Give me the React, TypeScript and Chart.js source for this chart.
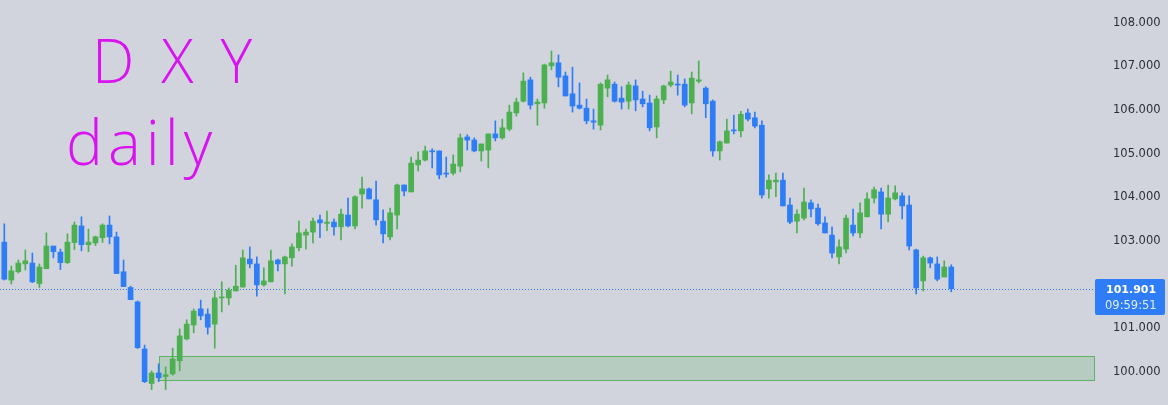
import React, { useEffect, useRef } from "react";
import { Chart, registerables } from "chart.js";

Chart.register(...registerables);

// ---- Data (DXY daily candles) ----
const opens = [
  102.97, 102.10, 102.29, 102.47, 102.49, 102.02, 102.36, 102.88, 102.74, 102.50,
  102.96, 103.34, 102.91, 102.95, 103.07, 103.36, 103.09, 102.29, 101.93, 101.60,
  100.52, 99.73, 99.97, 99.89, 99.95, 100.25, 100.75, 101.07, 101.44, 101.32,
  101.09, 101.69, 101.69, 101.85, 101.94, 102.58, 102.47, 101.99, 102.06, 102.56,
  102.47, 102.61, 102.84, 103.13, 103.20, 103.48, 103.40, 103.43, 103.32, 103.59,
  103.34, 104.07, 104.19, 103.94, 103.45, 103.09, 103.59, 104.28, 104.12, 104.74,
  104.85, 105.06, 105.06, 104.55, 104.55, 104.71, 105.38, 105.31, 105.06, 105.08,
  105.45, 105.36, 105.56, 105.93, 106.20, 106.69, 106.14, 106.16, 107.01, 107.08,
  106.78, 106.37, 106.11, 106.04, 105.75, 105.65, 106.50, 106.59, 106.27, 106.20,
  106.55, 106.25, 106.16, 105.61, 106.23, 106.57, 106.59, 106.59, 106.16, 106.66,
  106.50, 106.20, 105.06, 105.24, 105.54, 105.52, 105.93, 105.82, 105.65, 104.19,
  104.35, 104.39, 103.82, 103.45, 103.52, 103.87, 103.75, 103.41, 103.13, 102.63,
  102.81, 103.36, 103.18, 103.55, 103.98, 104.12, 103.61, 103.96, 104.03, 103.82,
  102.79, 102.08, 102.61, 102.47, 102.17, 102.40,
];
const highs = [
  103.39, 102.42, 102.56, 102.79, 102.72, 102.47, 103.18, 102.88, 102.81, 103.16,
  103.43, 103.55, 103.27, 103.11, 103.39, 103.57, 103.20, 102.56, 101.96, 101.62,
  100.61, 100.02, 100.18, 100.11, 100.54, 100.98, 101.19, 101.44, 101.64, 101.44,
  101.85, 102.06, 101.92, 102.44, 102.79, 102.86, 102.63, 102.38, 102.79, 102.58,
  102.65, 102.93, 103.45, 103.27, 103.52, 103.59, 103.68, 103.50, 103.73, 103.98,
  104.03, 104.46, 104.21, 104.37, 103.71, 103.75, 104.30, 104.28, 104.92, 105.04,
  105.17, 105.11, 105.06, 104.92, 104.97, 105.45, 105.43, 105.36, 105.22, 105.45,
  105.75, 105.79, 106.11, 106.27, 106.85, 106.75, 106.25, 107.05, 107.35, 107.26,
  106.87, 106.98, 106.62, 106.25, 106.02, 106.62, 106.80, 106.64, 106.53, 106.64,
  106.69, 106.43, 106.34, 106.32, 106.57, 106.89, 106.80, 106.71, 106.87, 107.12,
  106.53, 106.23, 105.29, 105.79, 105.88, 105.97, 106.02, 105.95, 105.75, 104.51,
  104.55, 104.55, 103.98, 103.71, 104.21, 103.94, 103.84, 103.55, 103.32, 103.02,
  103.59, 103.73, 103.87, 104.10, 104.23, 104.21, 104.28, 104.26, 104.10, 104.03,
  102.81, 102.65, 102.63, 102.63, 102.54, 102.45,
];
const lows = [
  102.10, 102.01, 102.26, 102.33, 102.04, 101.93, 102.36, 102.61, 102.34, 102.48,
  102.80, 102.77, 102.75, 102.89, 102.96, 102.93, 102.25, 101.95, 101.65, 100.53,
  99.75, 99.59, 99.77, 99.59, 99.92, 100.02, 100.73, 100.89, 101.19, 100.86,
  100.54, 101.37, 101.53, 101.85, 101.94, 102.38, 101.73, 101.96, 102.06, 102.31,
  101.78, 102.42, 102.77, 102.81, 102.95, 103.07, 103.23, 103.13, 103.02, 103.32,
  103.27, 103.75, 103.96, 103.36, 102.95, 103.02, 103.27, 104.03, 104.12, 104.60,
  104.83, 104.67, 104.42, 104.46, 104.51, 104.58, 105.08, 105.04, 104.83, 104.67,
  105.29, 105.33, 105.52, 105.86, 106.18, 106.02, 105.65, 106.04, 106.92, 106.53,
  106.32, 105.95, 106.02, 105.68, 105.56, 105.54, 106.30, 106.18, 106.02, 106.02,
  105.98, 106.07, 105.52, 105.36, 106.14, 106.53, 106.34, 106.07, 105.91, 106.62,
  105.82, 104.94, 104.85, 105.24, 105.45, 105.38, 105.75, 105.59, 103.98, 103.98,
  104.01, 103.80, 103.39, 103.18, 103.48, 103.55, 103.36, 103.18, 102.61, 102.47,
  102.72, 103.11, 103.07, 103.55, 103.87, 103.27, 103.43, 103.94, 103.50, 102.79,
  101.78, 101.85, 102.38, 102.08, 102.17, 101.83,
];
const closes = [
  102.12, 102.31, 102.49, 102.54, 102.06, 102.40, 102.88, 102.75, 102.50, 102.97,
  103.36, 102.91, 102.97, 103.09, 103.36, 103.09, 102.25, 101.95, 101.65, 100.55,
  99.77, 99.97, 99.86, 99.93, 100.29, 100.82, 101.09, 101.39, 101.28, 101.02,
  101.69, 101.71, 101.87, 101.96, 102.61, 102.47, 101.99, 102.08, 102.54, 102.47,
  102.63, 102.86, 103.18, 103.20, 103.45, 103.41, 103.43, 103.32, 103.61, 103.34,
  104.01, 104.19, 103.96, 103.48, 103.16, 103.64, 104.28, 104.14, 104.78, 104.85,
  105.06, 105.04, 104.51, 104.53, 104.76, 105.36, 105.31, 105.06, 105.22, 105.45,
  105.36, 105.59, 105.95, 106.18, 106.66, 106.11, 106.18, 107.03, 107.08, 106.75,
  106.32, 106.09, 106.04, 105.75, 105.72, 106.59, 106.69, 106.20, 106.18, 106.57,
  106.23, 106.14, 105.59, 106.25, 106.55, 106.64, 106.57, 106.11, 106.73, 106.69,
  106.14, 105.06, 105.27, 105.52, 105.52, 105.90, 105.79, 105.63, 104.05, 104.39,
  104.39, 103.80, 103.43, 103.61, 103.89, 103.73, 103.39, 103.18, 102.72, 102.86,
  103.52, 103.18, 103.64, 103.96, 104.17, 103.61, 103.98, 104.10, 103.80, 102.88,
  101.92, 102.61, 102.49, 102.12, 102.40, 101.901,
];
const yTickValues = [100, 101, 103, 104, 105, 106, 107, 108];
const lastTime = "09:59:51";
const zoneLow = 99.8;
const zoneHigh = 100.36;
const zoneStartIndex = 22;
const noteLine1 = "DXY";
const noteLine2 = "daily";

const UP = "#4caf50";
const DOWN = "#2e7cf6";
const BG = "#d1d4dc";
const MAGENTA = "#d912f0";

export default function App() {
  const ref = useRef<HTMLCanvasElement>(null);

  useEffect(() => {
    document.body.style.margin = "0";
    const canvas = ref.current;
    if (!canvas) return;
    const idx = closes.map((_, i) => i);
    const colors = closes.map((c, i) => (c >= opens[i] ? UP : DOWN));
    const last = closes[closes.length - 1];

    const overlay = {
      id: "overlay",
      beforeDraw(chart: any) {
        const ctx = chart.ctx;
        ctx.save();
        ctx.fillStyle = BG;
        ctx.fillRect(0, 0, chart.width, chart.height);
        ctx.restore();
      },
      beforeDatasetsDraw(chart: any) {
        const { ctx, chartArea, scales } = chart;
        const xs = scales.x;
        const ys = scales.y;
        ctx.save();
        // demand zone
        const zx = Math.round(xs.getPixelForValue(zoneStartIndex)) + 0.5;
        const zt = Math.round(ys.getPixelForValue(zoneHigh)) + 0.5;
        const zb = Math.round(ys.getPixelForValue(zoneLow)) + 0.5;
        const zr = chartArea.right - 0.5;
        ctx.fillStyle = "rgba(76,175,80,0.2)";
        ctx.fillRect(zx, zt, zr - zx, zb - zt);
        ctx.strokeStyle = "rgba(76,175,80,0.85)";
        ctx.lineWidth = 1;
        ctx.strokeRect(zx, zt, zr - zx, zb - zt);
        // handwritten note
        ctx.fillStyle = MAGENTA;
        ctx.textBaseline = "alphabetic";
        ctx.textAlign = "left";
        ctx.font = '300 60px "Open Sans", "DejaVu Sans", sans-serif';
        (ctx as any).letterSpacing = "27px";
        ctx.fillText(noteLine1, 92, 83);
        ctx.font = '300 62px "Open Sans", "DejaVu Sans", sans-serif';
        (ctx as any).letterSpacing = "5px";
        ctx.fillText(noteLine2, 66, 165);
        (ctx as any).letterSpacing = "0px";
        // last price dotted line
        const py = Math.round(ys.getPixelForValue(last)) + 0.5;
        ctx.strokeStyle = DOWN;
        ctx.setLineDash([1, 2]);
        ctx.beginPath();
        ctx.moveTo(chartArea.left, py);
        ctx.lineTo(chartArea.right, py);
        ctx.stroke();
        ctx.restore();
      },
      afterDraw(chart: any) {
        const { ctx, chartArea, scales } = chart;
        const py = Math.round(scales.y.getPixelForValue(last));
        const x0 = chartArea.right;
        const top = py - 10;
        ctx.save();
        ctx.fillStyle = DOWN;
        ctx.beginPath();
        (ctx as any).roundRect(x0, top, 70, 36, 2);
        ctx.fill();
        ctx.textAlign = "left";
        ctx.textBaseline = "middle";
        ctx.font = 'bold 11px "DejaVu Sans", sans-serif';
        ctx.fillStyle = "#ffffff";
        ctx.fillText(last.toFixed(3), x0 + 11, top + 11);
        ctx.font = '11.5px "DejaVu Sans", sans-serif';
        ctx.fillStyle = "rgba(255,255,255,0.85)";
        ctx.fillText(lastTime, x0 + 10, top + 27);
        ctx.restore();
      },
    };

    const chart = new Chart(canvas, {
      type: "bar",
      data: {
        datasets: [
          {
            label: "wick",
            data: idx.map((i) => ({ x: i, y: [lows[i], highs[i]] })) as any,
            backgroundColor: colors,
            borderWidth: 0,
            barThickness: 1,
            grouped: false,
            order: 2,
          },
          {
            label: "body",
            data: idx.map((i) => ({
              x: i,
              y: [Math.min(opens[i], closes[i]), Math.max(opens[i], closes[i])],
            })) as any,
            backgroundColor: colors,
            borderWidth: 0,
            barThickness: 5,
            minBarLength: 1,
            grouped: false,
            order: 1,
          },
        ],
      },
      options: {
        animation: false,
        responsive: false,
        maintainAspectRatio: false,
        devicePixelRatio: 1,
        layout: { padding: 0 },
        plugins: { legend: { display: false }, tooltip: { enabled: false } },
        scales: {
          x: {
            type: "linear",
            min: -0.613,
            max: 155.49,
            display: false,
            offset: false,
          },
          y: {
            position: "right",
            min: 99.236,
            max: 108.52,
            grid: { display: false },
            border: { display: false },
            ticks: {
              stepSize: 1,
              padding: 10,
              autoSkip: false,
              color: "#2a2e39",
              font: { family: '"DejaVu Sans", sans-serif', size: 11.5 },
              callback: (v: any) => {
                const r = Math.round(v);
                if (Math.abs(v - r) > 1e-6 || !yTickValues.includes(r)) return null;
                return r.toFixed(3);
              },
            },
            afterFit: (s: any) => {
              s.width = 73;
              s.paddingTop = 0;
              s.paddingBottom = 0;
            },
          },
        },
      } as any,
      plugins: [overlay],
    });
    return () => chart.destroy();
  }, []);

  return (
    <div style={{ position: "fixed", left: 0, top: 0, width: 1168, height: 405 }}>
      <canvas ref={ref} width={1168} height={405} style={{ display: "block" }} />
    </div>
  );
}
